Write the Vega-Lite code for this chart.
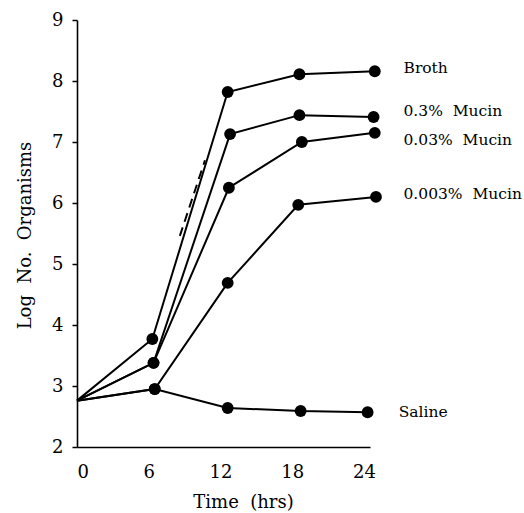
{
  "$schema": "https://vega.github.io/schema/vega-lite/v6.json",
  "width": 293,
  "height": 427,
  "autosize": {"type": "none"},
  "padding": {"left": 77, "top": 20, "right": 154, "bottom": 66},
  "background": "white",
  "config": {
    "view": {"stroke": null},
    "font": "DejaVu Serif",
    "axis": {"domainColor": "black", "domainWidth": 1.6, "tickColor": "black", "labelColor": "black", "titleColor": "black", "grid": false, "labelFont": "DejaVu Serif", "titleFont": "DejaVu Serif", "titleFontWeight": "normal"}
  },
  "datasets": {
    "growth": [
      {"series": "Broth", "time": 0, "log": 2.76},
      {"series": "Broth", "time": 6.3, "log": 3.77},
      {"series": "Broth", "time": 12.6, "log": 7.82},
      {"series": "Broth", "time": 18.6, "log": 8.11},
      {"series": "Broth", "time": 24.9, "log": 8.16},
      {"series": "0.3% Mucin", "time": 0, "log": 2.76},
      {"series": "0.3% Mucin", "time": 6.4, "log": 3.38},
      {"series": "0.3% Mucin", "time": 12.8, "log": 7.13},
      {"series": "0.3% Mucin", "time": 18.6, "log": 7.44},
      {"series": "0.3% Mucin", "time": 24.8, "log": 7.41},
      {"series": "0.03% Mucin", "time": 0, "log": 2.76},
      {"series": "0.03% Mucin", "time": 6.4, "log": 3.38},
      {"series": "0.03% Mucin", "time": 12.7, "log": 6.25},
      {"series": "0.03% Mucin", "time": 18.8, "log": 7.0},
      {"series": "0.03% Mucin", "time": 24.9, "log": 7.15},
      {"series": "0.003% Mucin", "time": 0, "log": 2.76},
      {"series": "0.003% Mucin", "time": 6.5, "log": 2.95},
      {"series": "0.003% Mucin", "time": 12.6, "log": 4.69},
      {"series": "0.003% Mucin", "time": 18.5, "log": 5.97},
      {"series": "0.003% Mucin", "time": 25.0, "log": 6.1},
      {"series": "Saline", "time": 0, "log": 2.76},
      {"series": "Saline", "time": 6.5, "log": 2.95},
      {"series": "Saline", "time": 12.6, "log": 2.64},
      {"series": "Saline", "time": 18.7, "log": 2.59},
      {"series": "Saline", "time": 24.3, "log": 2.57}
    ],
    "slope": [
      {"time": 8.6, "log": 5.46},
      {"time": 10.7, "log": 6.7}
    ],
    "labels": [
      {"label": "Broth", "time": 27.3, "log": 8.21},
      {"label": "0.3%\u00a0 Mucin", "time": 27.3, "log": 7.51},
      {"label": "0.03%\u00a0 Mucin", "time": 27.3, "log": 7.03},
      {"label": "0.003%\u00a0 Mucin", "time": 27.3, "log": 6.15},
      {"label": "Saline", "time": 26.9, "log": 2.57}
    ]
  },
  "layer": [
    {
      "data": {"name": "growth"},
      "mark": {"type": "line", "color": "black", "strokeWidth": 2, "clip": false},
      "encoding": {
        "x": {"field": "time", "type": "quantitative", "scale": {"domain": [0, 24.5], "nice": false, "zero": false},
          "axis": {"values": [0, 6, 12, 18, 24], "format": "d", "ticks": false, "labelPadding": 16, "labelFontSize": 18, "title": "Time\u00a0 (hrs)", "titleFontSize": 18, "titleX": 166, "titleY": 55, "titleAlign": "center", "titleBaseline": "middle"}},
        "y": {"field": "log", "type": "quantitative", "scale": {"domain": [2, 9], "nice": false, "zero": false},
          "axis": {"values": [2, 3, 4, 5, 6, 7, 8, 9], "format": "d", "tickSize": 5, "tickWidth": 1.5, "labelPadding": 9, "labelFontSize": 18, "title": "Log\u00a0 No.\u00a0 Organisms", "titleFontSize": 18, "titleX": -52, "titleY": 215, "titleAngle": -90, "titleAlign": "center", "titleBaseline": "middle"}},
        "detail": {"field": "series", "type": "nominal"}
      }
    },
    {
      "data": {"name": "growth"},
      "transform": [{"filter": "datum.time > 0"}],
      "mark": {"type": "point", "filled": true, "color": "black", "opacity": 1, "size": 140, "clip": false},
      "encoding": {
        "x": {"field": "time", "type": "quantitative"},
        "y": {"field": "log", "type": "quantitative"}
      }
    },
    {
      "data": {"name": "slope"},
      "mark": {"type": "line", "color": "black", "strokeWidth": 2, "strokeDash": [9, 6]},
      "encoding": {
        "x": {"field": "time", "type": "quantitative"},
        "y": {"field": "log", "type": "quantitative"}
      }
    },
    {
      "data": {"name": "labels"},
      "mark": {"type": "text", "align": "left", "baseline": "middle", "fontSize": 15.5, "color": "black", "font": "DejaVu Serif", "clip": false},
      "encoding": {
        "x": {"field": "time", "type": "quantitative"},
        "y": {"field": "log", "type": "quantitative"},
        "text": {"field": "label"}
      }
    }
  ]
}
